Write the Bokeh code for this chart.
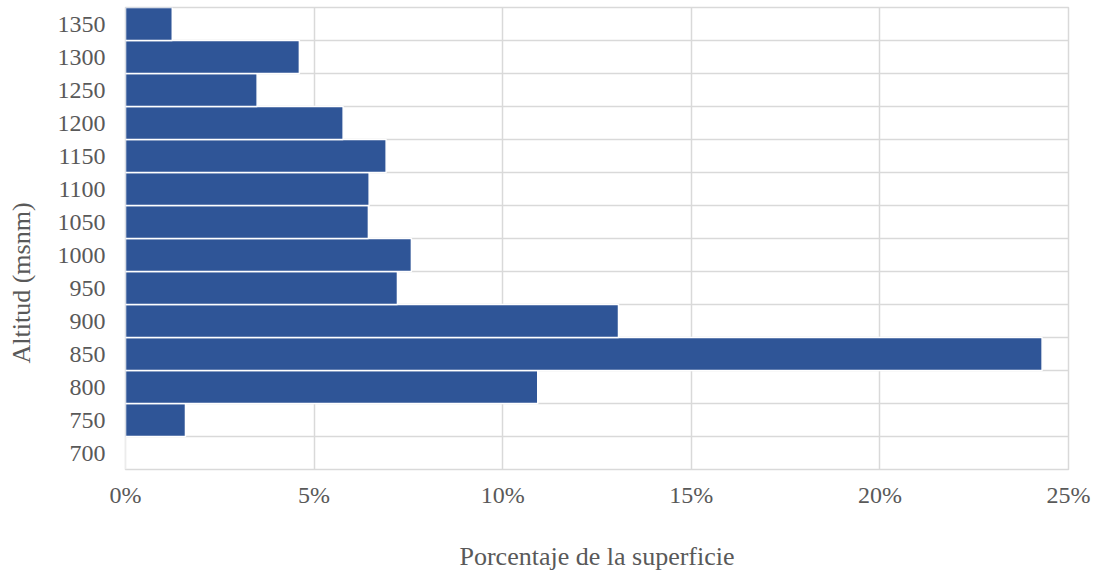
from bokeh.embed import file_html
from bokeh.models import ColumnDataSource, FixedTicker, Title
from bokeh.plotting import figure
from bokeh.resources import INLINE

# Altitude classes (m a.s.l.) and share of the surface in each (%)
altitudes = [700, 750, 800, 850, 900, 950, 1000, 1050, 1100, 1150, 1200, 1250, 1300, 1350]
surface_pct = [0.0, 1.59, 10.93, 24.30, 13.07, 7.21, 7.58, 6.44, 6.46, 6.91, 5.77, 3.49, 4.61, 1.24]

x_ticks = [0, 5, 10, 15, 20, 25]
x_tick_labels = ["0%", "5%", "10%", "15%", "20%", "25%"]

x_title = "Porcentaje de la superficie"
y_title = "Altitud (msnm)"

FONT = "Liberation Serif"
TEXT = "#595959"
GRID = "#d9d9d9"
BAR = "#2f5597"

# extra room on the left for the vertical title, hidden by a negative margin
SHIFT = 20

step = 50
y_lo, y_hi = altitudes[0] - step / 2, altitudes[-1] + step / 2
src = ColumnDataSource(dict(alt=altitudes, pct=surface_pct))

p = figure(
    width=1096 + SHIFT, height=573,
    x_range=(0, 25), y_range=(y_lo, y_hi),
    output_backend="svg", toolbar_location=None,
    min_border_left=125 + SHIFT, min_border_right=28, min_border_top=7, min_border_bottom=104,
)
p.styles = {"margin-left": f"-{SHIFT}px"}
p.background_fill_color = "white"
p.border_fill_color = "white"
p.outline_line_color = GRID
p.outline_line_width = 1.5

p.hbar(y="alt", right="pct", left=0, height=step, source=src,
       fill_color=BAR, line_color="white", line_width=1.5)

# axes (the frame outline draws the edges)
p.xaxis.ticker = FixedTicker(ticks=x_ticks)
p.xaxis.major_label_overrides = dict(zip(x_ticks, x_tick_labels))
p.yaxis.ticker = FixedTicker(ticks=altitudes)
p.xaxis.axis_label = x_title
for ax in (p.xaxis, p.yaxis):
    ax.axis_line_color = None
    ax.major_tick_line_color = None
    ax.minor_tick_line_color = None
    ax.major_tick_out = 0
    ax.major_label_text_font = FONT
    ax.major_label_text_font_size = "24px"
    ax.major_label_text_color = TEXT
    ax.axis_label_text_font = FONT
    ax.axis_label_text_font_size = "26px"
    ax.axis_label_text_font_style = "normal"
    ax.axis_label_text_color = TEXT
p.xaxis.major_label_standoff = 12
p.yaxis.major_label_standoff = 20
p.xaxis.axis_label_standoff = 31

# vertical title, started 106 px above the bottom of the plot area
p.add_layout(Title(text=y_title, align="left", offset=106, standoff=38,
                   text_font=FONT, text_font_size="26px", text_color=TEXT,
                   text_font_style="normal"), "left")

# grid: vertical at each tick, horizontal at class boundaries
p.xgrid.grid_line_color = GRID
p.xgrid.grid_line_width = 1.5
p.ygrid.ticker = FixedTicker(ticks=[a - step / 2 for a in altitudes] + [y_hi])
p.ygrid.grid_line_color = GRID
p.ygrid.grid_line_width = 1.5

open("out.html", "w").write(file_html(p, INLINE))
